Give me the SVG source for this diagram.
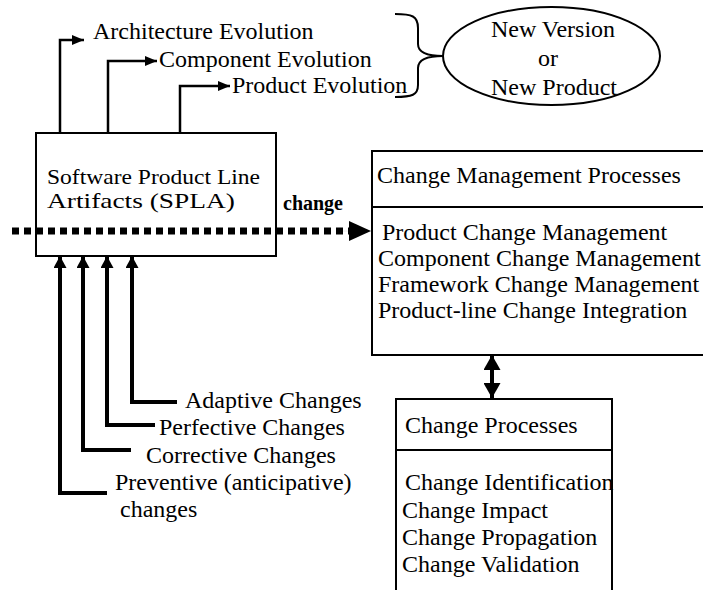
<svg xmlns="http://www.w3.org/2000/svg" width="703" height="590" viewBox="0 0 703 590">
<style>
text{font-family:"Liberation Serif","Times New Roman",serif;font-size:24px;fill:#000}
.b{font-weight:bold;font-size:20px}
.s{font-size:21px}
.box{fill:none;stroke:#000;stroke-width:2}
.ln{fill:none;stroke:#000;stroke-width:2.5}
.th{fill:none;stroke:#000;stroke-width:4}
</style>
<defs>
<marker id="ah" viewBox="0 0 12 10" refX="12" refY="5" markerWidth="12" markerHeight="10" markerUnits="userSpaceOnUse" orient="auto"><path d="M0,0 L12,5 L0,10 Z" fill="#000"/></marker>
<marker id="up" viewBox="0 0 12 13" refX="12" refY="6.5" markerWidth="12" markerHeight="13" markerUnits="userSpaceOnUse" orient="auto"><path d="M0,0 L12,6.5 L0,13 Z" fill="#000"/></marker>
<marker id="big" viewBox="0 0 22 20" refX="22" refY="10" markerWidth="22" markerHeight="20" markerUnits="userSpaceOnUse" orient="auto"><path d="M0,0 L22,10 L0,20 Z" fill="#000"/></marker>
<marker id="dh" viewBox="0 0 15 17" refX="15" refY="8.5" markerWidth="15" markerHeight="17" markerUnits="userSpaceOnUse" orient="auto"><path d="M0,0 L15,8.5 L0,17 Z" fill="#000"/></marker>
</defs>

<g id="connectors">
<path class="ln" d="M60,133 V40 H84" marker-end="url(#ah)"/>
<path class="ln" d="M108,133 V61 H157" marker-end="url(#ah)"/>
<path class="ln" d="M180,133 V86 H230" marker-end="url(#ah)"/>
<path fill="none" stroke="#000" stroke-width="2" d="M395,14 C412,14 418,16 418,28 L418,44 C418,52 426,56 443,56 C426,56 418,60 418,68 L418,85 C418,95 412,97 395,97"/>
<line x1="12" y1="231" x2="349" y2="231" stroke="#000" stroke-width="7" stroke-dasharray="7 5"/>
<line x1="340" y1="231" x2="371" y2="231" stroke="#000" stroke-width="0.1" marker-end="url(#big)"/>
<path class="th" d="M132,268 V402 H177"/>
<path class="th" d="M107,268 V425 H155"/>
<path class="th" d="M83,268 V450 H131"/>
<path class="th" d="M60,268 V493 H107"/>
<line class="th" x1="132" y1="270" x2="132" y2="256" marker-end="url(#up)"/>
<line class="th" x1="107" y1="270" x2="107" y2="256" marker-end="url(#up)"/>
<line class="th" x1="83" y1="270" x2="83" y2="256" marker-end="url(#up)"/>
<line class="th" x1="60" y1="270" x2="60" y2="256" marker-end="url(#up)"/>
<line class="th" x1="492" y1="376" x2="492" y2="355" marker-end="url(#dh)"/>
<line class="th" x1="492" y1="376" x2="492" y2="398" marker-end="url(#dh)"/>
</g>

<g id="evolution-labels">
<text x="93" y="39">Architecture Evolution</text>
<text x="159" y="67">Component Evolution</text>
<text x="232" y="93">Product Evolution</text>
</g>

<g id="new-version">
<ellipse cx="551.5" cy="56" rx="108.5" ry="49" fill="none" stroke="#000" stroke-width="2"/>
<text x="553" y="37" text-anchor="middle">New Version</text>
<text x="548" y="66" text-anchor="middle">or</text>
<text x="554" y="95" text-anchor="middle">New Product</text>
</g>

<g id="spla">
<rect class="box" x="36" y="133" width="240" height="123"/>
<text class="s" x="47" y="184" textLength="213" lengthAdjust="spacingAndGlyphs">Software Product Line</text>
<text class="s" x="47" y="208" textLength="188" lengthAdjust="spacingAndGlyphs">Artifacts (SPLA)</text>
</g>

<g id="change-label">
<text class="b" x="283" y="210">change</text>
</g>

<g id="change-management">
<rect class="box" x="372" y="151" width="340" height="204"/>
<line class="box" x1="372" y1="207" x2="712" y2="207"/>
<text x="377" y="183">Change Management Processes</text>
<text x="382" y="240">Product Change Management</text>
<text x="378" y="266">Component Change Management</text>
<text x="378" y="292">Framework Change Management</text>
<text x="378" y="318">Product-line Change Integration</text>
</g>

<g id="change-processes">
<rect class="box" x="396" y="399" width="216" height="200"/>
<line class="box" x1="396" y1="450" x2="612" y2="450"/>
<text x="405" y="433">Change Processes</text>
<text x="405" y="490">Change Identification</text>
<text x="402" y="518">Change Impact</text>
<text x="402" y="545">Change Propagation</text>
<text x="402" y="572">Change Validation</text>
</g>

<g id="change-types">
<text x="185" y="408">Adaptive Changes</text>
<text x="159" y="435">Perfective Changes</text>
<text x="146" y="463">Corrective Changes</text>
<text x="115" y="490">Preventive (anticipative)</text>
<text x="120" y="517">changes</text>
</g>
</svg>
